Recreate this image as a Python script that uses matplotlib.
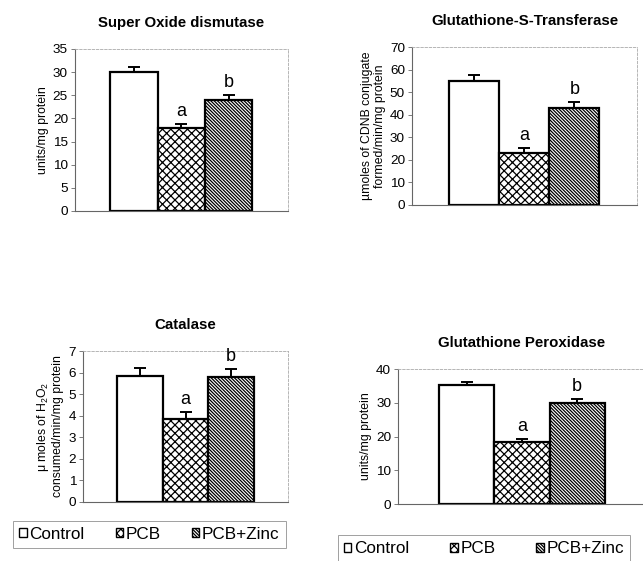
import matplotlib
matplotlib.use("Agg")
import matplotlib.pyplot as plt

plt.rcParams["font.family"] = ["Liberation Sans", "DejaVu Sans"]
plt.rcParams["hatch.linewidth"] = 0.9

# --- data ---
groups = ["Control", "PCB", "PCB+Zinc"]
sod_mean = [30.0, 18.0, 24.0]
sod_err = [1.1, 0.8, 1.1]
gst_mean = [55.0, 23.0, 43.0]
gst_err = [2.5, 2.3, 2.5]
cat_mean = [5.85, 3.85, 5.8]
cat_err = [0.35, 0.3, 0.35]
gpx_mean = [35.3, 18.3, 30.0]
gpx_err = [1.0, 1.0, 1.0]
sig_labels = ["", "a", "b"]

hatches = ["", "xxxx", "\\" * 10]

panels = [
    # title, ylabel, mean, err, ylim, ystep, axes rect
    ("Super Oxide dismutase", "units/mg protein", sod_mean, sod_err, 35, 5,
     [0.1166, 0.6239, 0.3313, 0.2888]),
    ("Glutathione-S-Transferase", "µmoles of CDNB conjugate\nformed/min/mg protein",
     gst_mean, gst_err, 70, 10, [0.6407, 0.6346, 0.3499, 0.2816]),
    ("Catalase", "μ moles of $\\mathregular{H_2O_2}$\nconsumed/min/mg protein",
     cat_mean, cat_err, 7, 1, [0.1291, 0.1052, 0.3188, 0.2691]),
    ("Glutathione Peroxidase", "units/mg protein", gpx_mean, gpx_err, 40, 10,
     [0.619, 0.1016, 0.3857, 0.2406]),
]

fig = plt.figure(figsize=(6.43, 5.61), dpi=100)
bar_sets = []
for title, ylabel, mean, err, ymax, ystep, rect in panels:
    ax = fig.add_axes(rect)
    xs = range(len(groups))
    bars = ax.bar(xs, mean, width=1.0, color="white", edgecolor="black",
                  linewidth=1.6, zorder=2)
    for b, h in zip(bars, hatches):
        b.set_hatch(h)
    ax.errorbar(xs, mean, yerr=[[0] * len(err), err], fmt="none", ecolor="black",
                elinewidth=1.4, capsize=4, capthick=1.4, zorder=3)
    for x, m, e, s in zip(xs, mean, err, sig_labels):
        if s:
            ax.annotate(s, (x, m + e), xytext=(0, 3), textcoords="offset points",
                        ha="center", va="bottom", fontsize=13)
    ax.set_xlim(-1.25, 3.25)
    ax.set_ylim(0, ymax)
    ax.set_yticks(range(0, ymax + 1, ystep))
    ax.set_xticks([])
    ax.tick_params(axis="y", labelsize=9.7, length=3, width=0.6, color="#666", pad=2)
    ax.set_ylabel(ylabel, fontsize=8.8, labelpad=3, linespacing=1.1)
    ax.set_title(title, fontsize=10.8, fontweight="bold", pad=16)
    for side in ["left", "bottom"]:
        ax.spines[side].set_color("#666")
        ax.spines[side].set_linewidth(0.8)
    for side in ["top", "right"]:
        ax.spines[side].set_color("#aaa")
        ax.spines[side].set_linewidth(0.6)
        ax.spines[side].set_linestyle((0, (3, 2)))
    bar_sets.append(bars)

legend_spots = [(bar_sets[2], (0.2325, 0.0473), 1.8), (bar_sets[3], (0.7527, 0.0215), 2.4)]
for bars, center, colspace in legend_spots:
    leg = fig.legend(list(bars), groups, loc="center", bbox_to_anchor=center, ncol=3,
                     fontsize=12.3, frameon=True, fancybox=False, handlelength=0.45,
                     handleheight=0.45, handletextpad=0.15, columnspacing=colspace,
                     borderpad=0.35, borderaxespad=0)
    leg.get_frame().set_edgecolor("#888")
    leg.get_frame().set_linewidth(0.7)
    for p in leg.get_patches():
        p.set_linewidth(1.0)

fig.savefig("out.png", dpi=100)
